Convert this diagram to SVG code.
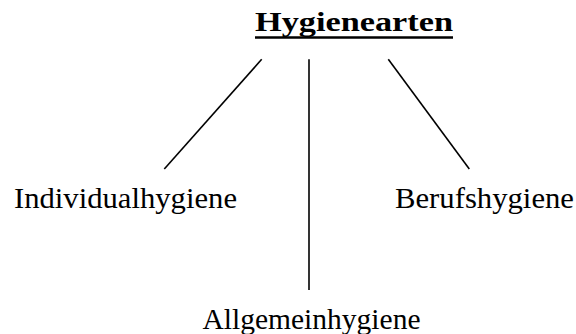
<svg xmlns="http://www.w3.org/2000/svg" width="576" height="334" viewBox="0 0 576 334">
<style>
.lbl{font-family:"Liberation Serif","DejaVu Serif",serif;font-size:28.5px;fill:#000}
.title{font-family:"Liberation Serif","DejaVu Serif",serif;font-size:27.5px;font-weight:bold;fill:#000}
.conn line{stroke:#000;stroke-width:1.6}
</style>
<rect width="576" height="334" fill="#fff"/>
<g id="hygienearten">
<text class="title" x="255" y="31" textLength="198" lengthAdjust="spacingAndGlyphs">Hygienearten</text>
<line x1="255" y1="37.5" x2="453" y2="37.5" stroke="#000" stroke-width="2.5"/>
</g>
<g id="individualhygiene">
<text class="lbl" x="14" y="207.5" textLength="223" lengthAdjust="spacingAndGlyphs">Individualhygiene</text>
</g>
<g id="berufshygiene">
<text class="lbl" x="395" y="207.5" textLength="179" lengthAdjust="spacingAndGlyphs">Berufshygiene</text>
</g>
<g id="allgemeinhygiene">
<text class="lbl" x="202.5" y="329" textLength="218" lengthAdjust="spacingAndGlyphs">Allgemeinhygiene</text>
</g>
<g id="connectors" class="conn">
<line x1="261.7" y1="59.3" x2="164.3" y2="169"/>
<line x1="309" y1="59.3" x2="309" y2="290"/>
<line x1="388.3" y1="59.3" x2="469.3" y2="169"/>
</g>
</svg>
